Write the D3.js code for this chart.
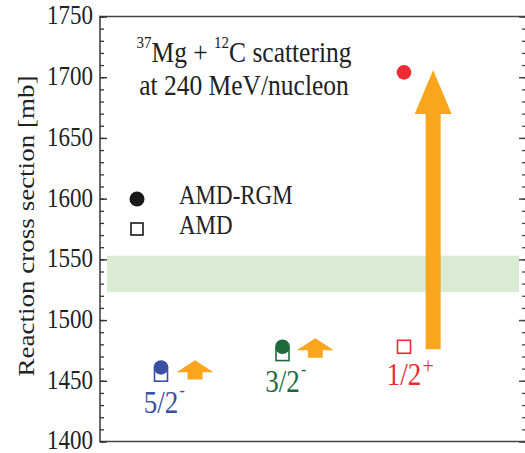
<!DOCTYPE html>
<html>
<head>
<meta charset="utf-8">
<script src="https://cdn.jsdelivr.net/npm/d3@7"></script>
<style>
  html, body { margin: 0; padding: 0; background: #fff; }
  svg { display: block; }
  text { font-family: "Liberation Serif", "Times New Roman", serif; }
</style>
</head>
<body>
<script>
// ---------------- data ----------------
const categories = ["5/2", "3/2", "1/2"];
const parities   = ["-", "-", "+"];
const amdRgm     = [1461, 1478, 1704];   // filled circles
const amd        = [1455, 1472, 1478];   // open squares
const arrowFrom  = [1451, 1469, 1476];
const arrowTo    = [1467, 1485, 1706];
const arrowPos   = [0.28, 1.27, 2.24];   // position in category units
const bandRange  = [1523, 1553];         // experimental band
const yMajorTicks = [1400, 1450, 1500, 1550, 1600, 1650, 1700, 1750];
const yMinorTicks = d3.range(1400, 1751, 10);
const catColors  = ["#3a4ea3", "#1f6a3c", "#ee2a35"];
const legendLabels = ["AMD-RGM", "AMD"];
const titleLines = [
  [["37", true], ["Mg + ", false], ["12", true], ["C scattering", false]],
  [["at 240 MeV/nucleon", false]]
];
const yTitle = "Reaction cross section [mb]";

// ---------------- layout ----------------
const W = 525, H = 453;
const pLeft = 100, pRight = 526, pTop = 16.5, pBottom = 441.5;
const STRETCH = 1.15;
const orange = "#f9a51e";

const svg = d3.select("body").append("svg").attr("width", W).attr("height", H);

const y = d3.scaleLinear().domain([1400, 1750]).range([pBottom, pTop]);
const x = d3.scaleLinear().domain([0, 2]).range([161, 404]);

// band
svg.append("rect")
  .attr("x", 107).attr("width", 519 - 107)
  .attr("y", y(bandRange[1])).attr("height", y(bandRange[0]) - y(bandRange[1]))
  .attr("fill", "#d9ebd2");

// frame
const frame = svg.append("g").attr("stroke", "#444").attr("stroke-width", 1.6).attr("fill", "none");
frame.append("line").attr("x1", pLeft).attr("x2", pLeft).attr("y1", pTop - 0.8).attr("y2", pBottom + 0.8);
frame.append("line").attr("x1", pLeft).attr("x2", W).attr("y1", pTop).attr("y2", pTop);
frame.append("line").attr("x1", pLeft).attr("x2", W).attr("y1", pBottom).attr("y2", pBottom);

// left axis: minor ticks
const minorAxis = d3.axisLeft(y).tickValues(yMinorTicks).tickSizeInner(-4).tickSizeOuter(0).tickFormat("");
const gMin = svg.append("g").attr("transform", `translate(${pLeft},0)`).call(minorAxis);
gMin.select(".domain").remove();
gMin.selectAll("line").attr("stroke", "#333").attr("stroke-width", 1.3);

// left axis: major ticks + labels
const majorAxis = d3.axisLeft(y).tickValues(yMajorTicks).tickSizeInner(-7).tickSizeOuter(0).tickPadding(7).tickFormat(d3.format("d"));
const gMaj = svg.append("g").attr("transform", `translate(${pLeft},0)`).call(majorAxis);
gMaj.select(".domain").remove();
gMaj.selectAll("line").attr("stroke", "#333").attr("stroke-width", 1.4);
gMaj.selectAll("text")
  .attr("font-family", "Liberation Serif, serif")
  .attr("font-size", 23).attr("fill", "#222")
  .attr("transform", `scale(1,${STRETCH})`)
  .attr("dy", "0.28em");

// right axis ticks (inward)
const rMin = d3.axisRight(y).tickValues(yMinorTicks).tickSizeInner(-4).tickSizeOuter(0).tickFormat("");
const gRMin = svg.append("g").attr("transform", `translate(${pRight},0)`).call(rMin);
gRMin.select(".domain").remove();
gRMin.selectAll("line").attr("stroke", "#444").attr("stroke-width", 1.3);
const rMaj = d3.axisRight(y).tickValues(yMajorTicks).tickSizeInner(-7).tickSizeOuter(0).tickFormat("");
const gRMaj = svg.append("g").attr("transform", `translate(${pRight},0)`).call(rMaj);
gRMaj.select(".domain").remove();
gRMaj.selectAll("line").attr("stroke", "#444").attr("stroke-width", 1.4);

// y axis title
svg.append("text")
  .attr("transform", `translate(34,226) rotate(-90) scale(${STRETCH},1)`)
  .attr("text-anchor", "middle")
  .attr("font-size", 23.5).attr("fill", "#222")
  .text(yTitle);

// title
const titleBase = [61.7, 95];
titleLines.forEach((parts, li) => {
  const t = svg.append("text")
    .attr("transform", `translate(244,${titleBase[li]}) scale(1,${STRETCH})`)
    .attr("text-anchor", "middle").attr("font-size", 25.5).attr("fill", "#222");
  let raised = false;
  parts.forEach(([s, sup]) => {
    const ts = t.append("tspan").text(s);
    if (sup && !raised) { ts.attr("font-size", 15).attr("dy", -12); raised = true; }
    else if (!sup && raised) { ts.attr("dy", 12); raised = false; }
  });
});

// legend
svg.append("circle").attr("cx", 137).attr("cy", 199).attr("r", 7.5).attr("fill", "#1a1a1a");
svg.append("rect").attr("x", 131).attr("y", 223).attr("width", 12).attr("height", 12)
  .attr("fill", "#fff").attr("stroke", "#1a1a1a").attr("stroke-width", 1.6);
legendLabels.forEach((l, i) => {
  svg.append("text")
    .attr("transform", `translate(179,${204 + 30 * i}) scale(1,${STRETCH})`)
    .attr("font-size", 23).attr("fill", "#222").text(l);
});

// arrows
function arrowPath(cx, y0, y1) {
  const len = y0 - y1;
  const head = Math.min(44, len * 0.62);
  const sw = 7.5, hw = 18.5;
  return `M${cx - sw},${y0} L${cx - sw},${y1 + head} L${cx - hw},${y1 + head} L${cx},${y1} ` +
         `L${cx + hw},${y1 + head} L${cx + sw},${y1 + head} L${cx + sw},${y0} Z`;
}
svg.append("g").selectAll("path")
  .data(categories.map((c, i) => i))
  .join("path")
  .attr("d", i => arrowPath(x(arrowPos[i]), y(arrowFrom[i]), y(arrowTo[i])))
  .attr("fill", orange);

// markers: squares (AMD) then circles (AMD-RGM)
const sq = 13;
svg.append("g").selectAll("rect")
  .data(categories.map((c, i) => i))
  .join("rect")
  .attr("x", i => x(i) - sq / 2).attr("y", i => y(amd[i]) - sq / 2)
  .attr("width", sq).attr("height", sq)
  .attr("fill", "#fff").attr("stroke", i => catColors[i]).attr("stroke-width", 1.6);
svg.append("g").selectAll("circle")
  .data(categories.map((c, i) => i))
  .join("circle")
  .attr("cx", i => x(i)).attr("cy", i => y(amdRgm[i])).attr("r", 7.3)
  .attr("fill", i => catColors[i]);

// category labels
categories.forEach((c, i) => {
  const bx = x(i), by = y(amd[i]) + 38;
  svg.append("text")
    .attr("transform", `translate(${bx},${by}) scale(1,${STRETCH})`)
    .attr("text-anchor", "middle").attr("font-size", 27).attr("fill", catColors[i])
    .text(c);
  const plus = parities[i] === "+";
  svg.append("text")
    .attr("transform", `translate(${bx + 18.5},${by - (plus ? 12 : 17)}) scale(1,${STRETCH})`)
    .attr("font-size", plus ? 20 : 16).attr("fill", catColors[i])
    .text(parities[i]);
});
</script>
</body>
</html>
